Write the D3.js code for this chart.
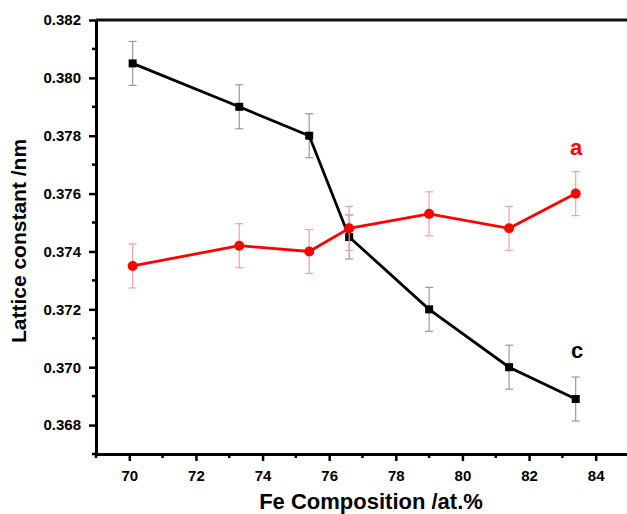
<!DOCTYPE html>
<html>
<head>
<meta charset="utf-8">
<script src="https://cdn.jsdelivr.net/npm/d3@7"></script>
<style>
  body { margin: 0; background: #fff; }
  svg text { font-family: "Liberation Sans", Arial, sans-serif; font-weight: bold; }
</style>
</head>
<body>
<svg id="chart" width="627" height="514"></svg>
<script>
// composition (at.% Fe)
var fe_comp = [70.1, 73.3, 75.4, 76.6, 79.0, 81.4, 83.4];
// lattice constant c (black squares)
var c_vals = [0.3805, 0.3790, 0.3780, 0.3745, 0.3720, 0.3700, 0.3689];
var c_err  = [0.00076, 0.00076, 0.00076, 0.00076, 0.00076, 0.00076, 0.00076];
// lattice constant a (red circles)
var a_vals = [0.3735, 0.3742, 0.3740, 0.3748, 0.3753, 0.3748, 0.3760];
var a_err  = [0.00076, 0.00076, 0.00076, 0.00076, 0.00076, 0.00076, 0.00076];

var x_ticks = [70, 72, 74, 76, 78, 80, 82, 84];
var x_minor = [69, 71, 73, 75, 77, 79, 81, 83, 85];
var y_ticks = [0.368, 0.370, 0.372, 0.374, 0.376, 0.378, 0.380, 0.382];
var y_minor = [0.367, 0.369, 0.371, 0.373, 0.375, 0.377, 0.379, 0.381];

var svg = d3.select("#chart");

var plot_left = 96, plot_right = 629, plot_top = 20, plot_bottom = 454;

var xscale = d3.scaleLinear().domain([69, 85]).range([plot_left, plot_right]);
var yscale = d3.scaleLinear().domain([0.367, 0.382]).range([plot_bottom, plot_top]);

// axes
var xaxis = d3.axisBottom(xscale).tickValues(x_ticks).tickSize(7).tickSizeOuter(0)
    .tickFormat(d3.format("d"));
var yaxis = d3.axisLeft(yscale).tickValues(y_ticks).tickSize(7).tickSizeOuter(0)
    .tickFormat(d3.format(".3f"));

var gx = svg.append("g").attr("transform", "translate(0," + plot_bottom + ")").call(xaxis);
gx.selectAll(".tick text").attr("y", 16).attr("dy", "0.71em").style("font-size", "15px");
gx.selectAll(".tick line").attr("stroke-width", 2.5);
gx.select(".domain").attr("stroke-width", 3);
gx.selectAll(".minor").data(x_minor).enter().append("line")
    .attr("x1", function (d) { return xscale(d); })
    .attr("x2", function (d) { return xscale(d); })
    .attr("y1", 0).attr("y2", 4)
    .attr("stroke", "#000").attr("stroke-width", 2.5);

var gy = svg.append("g").attr("transform", "translate(" + plot_left + ",0)").call(yaxis);
gy.selectAll(".tick text").attr("x", -15).style("font-size", "15px");
gy.selectAll(".tick line").attr("stroke-width", 2.5);
gy.select(".domain").attr("stroke-width", 3);
gy.selectAll(".minor").data(y_minor).enter().append("line")
    .attr("y1", function (d) { return yscale(d); })
    .attr("y2", function (d) { return yscale(d); })
    .attr("x1", 0).attr("x2", -4)
    .attr("stroke", "#000").attr("stroke-width", 2.5);

// top frame line
svg.append("line")
    .attr("x1", plot_left).attr("x2", plot_right)
    .attr("y1", yscale(0.382)).attr("y2", yscale(0.382))
    .attr("stroke", "#111").attr("stroke-width", 3);

function drawSeries(vals, errs, line_color, err_color, marker) {
    var pts = fe_comp.map(function (x, i) { return [x, vals[i], errs[i]]; });
    var g = svg.append("g");

    // error bars
    var eb = g.selectAll(".eb").data(pts).enter().append("g");
    eb.append("line")
        .attr("x1", function (d) { return xscale(d[0]); })
        .attr("x2", function (d) { return xscale(d[0]); })
        .attr("y1", function (d) { return yscale(d[1] + d[2]); })
        .attr("y2", function (d) { return yscale(d[1] - d[2]); })
        .attr("stroke", err_color).attr("stroke-width", 1.2);
    [1, -1].forEach(function (s) {
        eb.append("line")
            .attr("x1", function (d) { return xscale(d[0]) - 4; })
            .attr("x2", function (d) { return xscale(d[0]) + 4; })
            .attr("y1", function (d) { return yscale(d[1] + s * d[2]); })
            .attr("y2", function (d) { return yscale(d[1] + s * d[2]); })
            .attr("stroke", err_color).attr("stroke-width", 1.2);
    });

    var line = d3.line()
        .x(function (d) { return xscale(d[0]); })
        .y(function (d) { return yscale(d[1]); });
    g.append("path").datum(pts).attr("d", line)
        .attr("fill", "none").attr("stroke", line_color).attr("stroke-width", 2.8);

    if (marker === "square") {
        g.selectAll(".m").data(pts).enter().append("rect")
            .attr("x", function (d) { return xscale(d[0]) - 4; })
            .attr("y", function (d) { return yscale(d[1]) - 4; })
            .attr("width", 8).attr("height", 8)
            .attr("fill", line_color);
    } else {
        g.selectAll(".m").data(pts).enter().append("circle")
            .attr("cx", function (d) { return xscale(d[0]); })
            .attr("cy", function (d) { return yscale(d[1]); })
            .attr("r", 5)
            .attr("fill", line_color);
    }
}

drawSeries(c_vals, c_err, "#000", "#999", "square");
drawSeries(a_vals, a_err, "#ff0000", "#f5a0a0", "circle");

// series labels
svg.append("text").attr("x", 576).attr("y", 155)
    .attr("text-anchor", "middle").style("font-size", "22px").attr("fill", "#ff0000").text("a");
svg.append("text").attr("x", 577).attr("y", 358)
    .attr("text-anchor", "middle").style("font-size", "22px").attr("fill", "#000").text("c");

// axis titles
svg.append("text")
    .attr("x", 371).attr("y", 509)
    .attr("text-anchor", "middle").style("font-size", "22px")
    .text("Fe Composition /at.%");
svg.append("text")
    .attr("transform", "translate(26,241) rotate(-90)")
    .attr("text-anchor", "middle").style("font-size", "21px")
    .text("Lattice constant /nm");
</script>
</body>
</html>
